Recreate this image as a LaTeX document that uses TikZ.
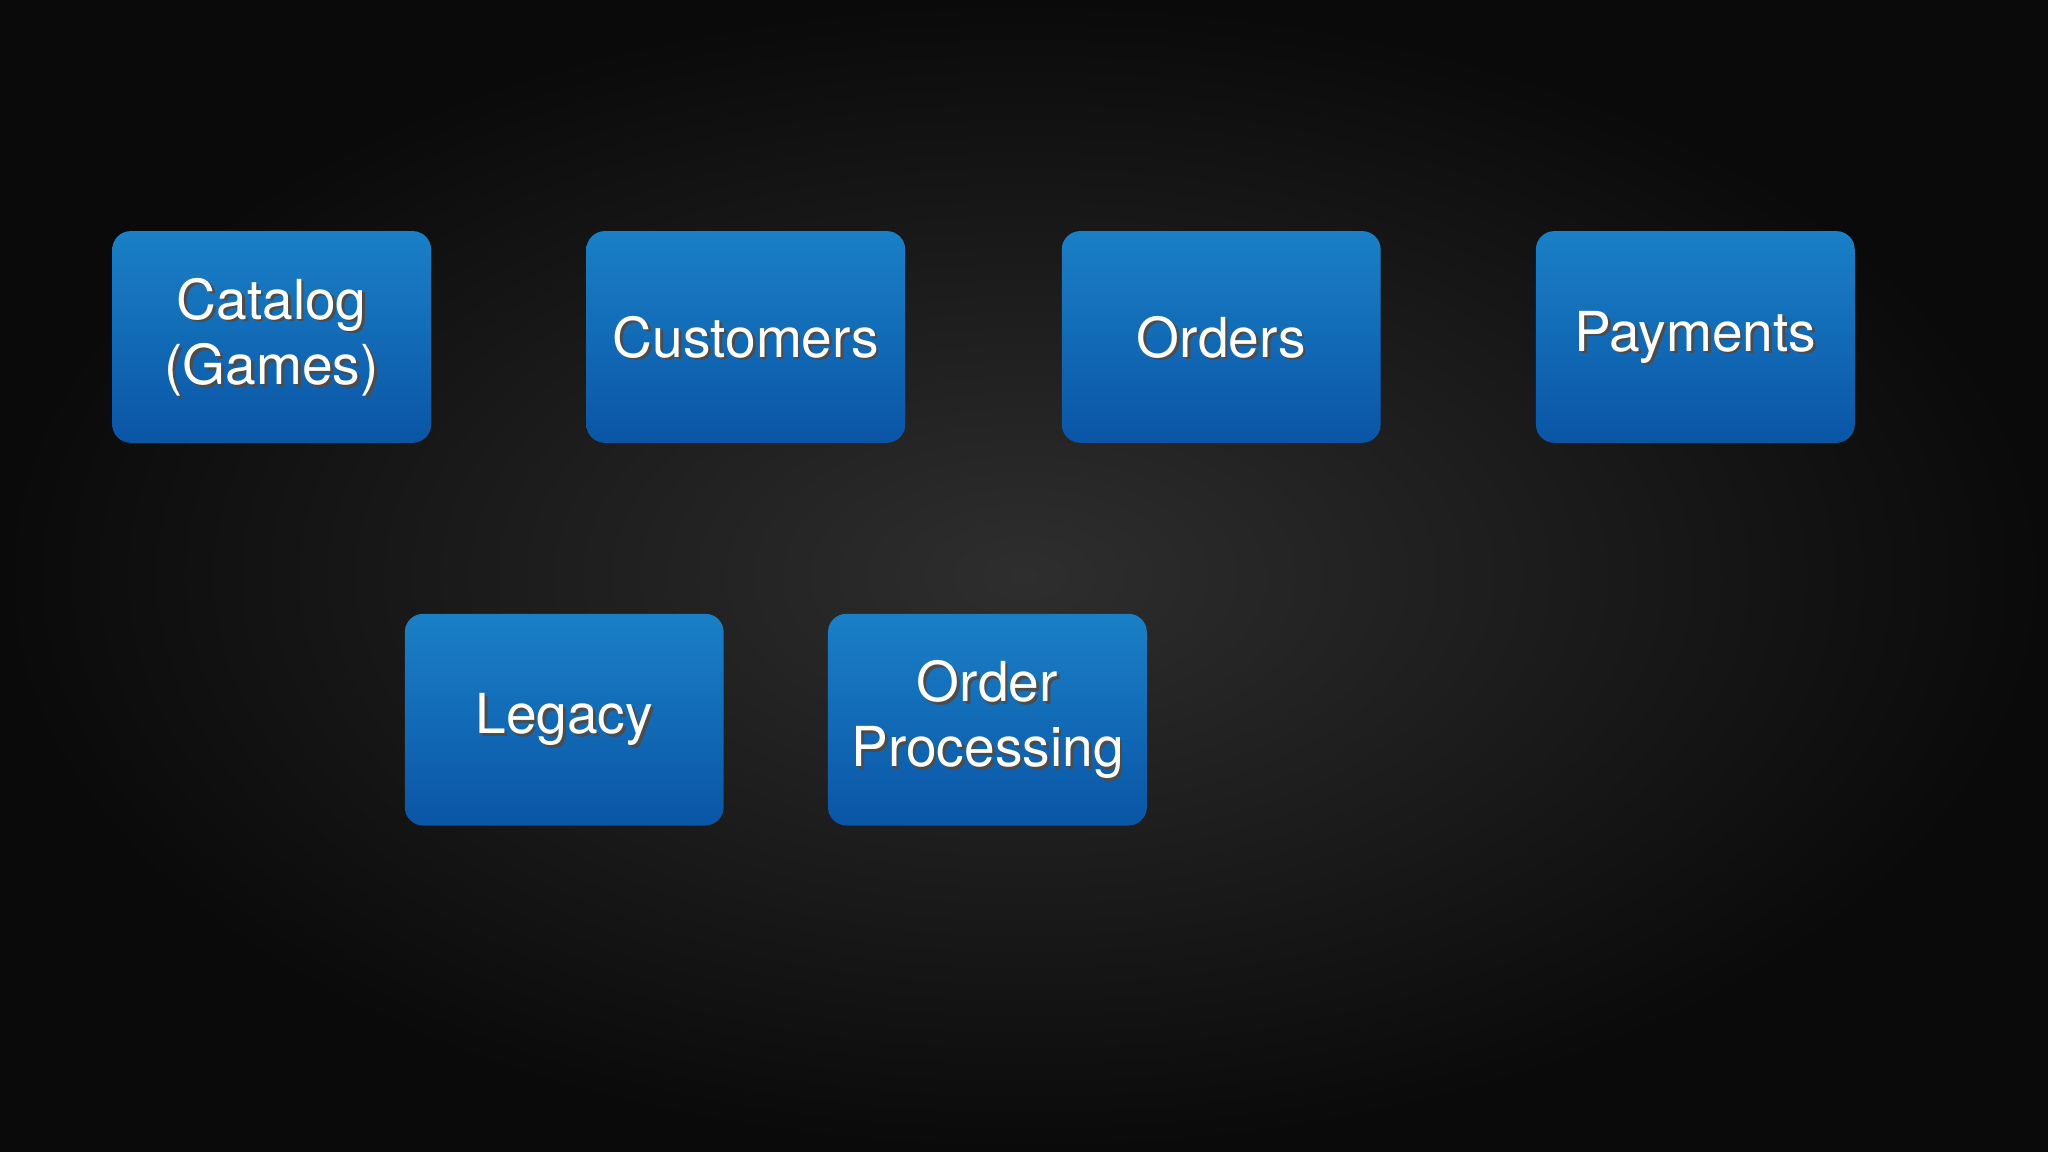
\documentclass[tikz,border=0pt]{standalone}
\usepackage{fontspec}
\setmainfont{TeX Gyre Heros}
\usetikzlibrary{shadings}
\definecolor{boxtop}{HTML}{1A80C6}
\definecolor{boxbot}{HTML}{0A55A6}
\definecolor{bgin}{HTML}{2E2E2E}
\definecolor{bgout}{HTML}{0A0A0A}
\tikzset{
  blk/.style={rounded corners=4pt, top color=boxtop, bottom color=boxbot, draw=none,
    minimum width=2.44cm, minimum height=1.62cm, inner sep=0pt, outer sep=0pt},
  lbl/.style={font=\fontsize{12}{14.2}\selectfont, text=white, align=center, inner sep=0pt},
  lblsh/.style={lbl, text=black!70, xshift=0.6pt, yshift=-0.6pt}
}
\begin{document}
\begin{tikzpicture}[x=0.01cm,y=-0.01cm]
\useasboundingbox (0,0) rectangle (1568,882);
\shade[inner color=bgin, outer color=bgout] (0,0) rectangle (1568,882);
\foreach \nm/\cx/\cy/\txt in {cat/208/258/{Catalog\\(Games)}, cus/571/258/Customers, ord/935/258/Orders, pay/1298/258/Payments, leg/432/551/Legacy, op/756/551/{Order\\Processing}}{
  \node[blk] (\nm) at (\cx,\cy) {};
  \node[lblsh] at (\nm.center) {\txt};
  \node[lbl] at (\nm.center) {\txt};
}
\end{tikzpicture}
\end{document}
